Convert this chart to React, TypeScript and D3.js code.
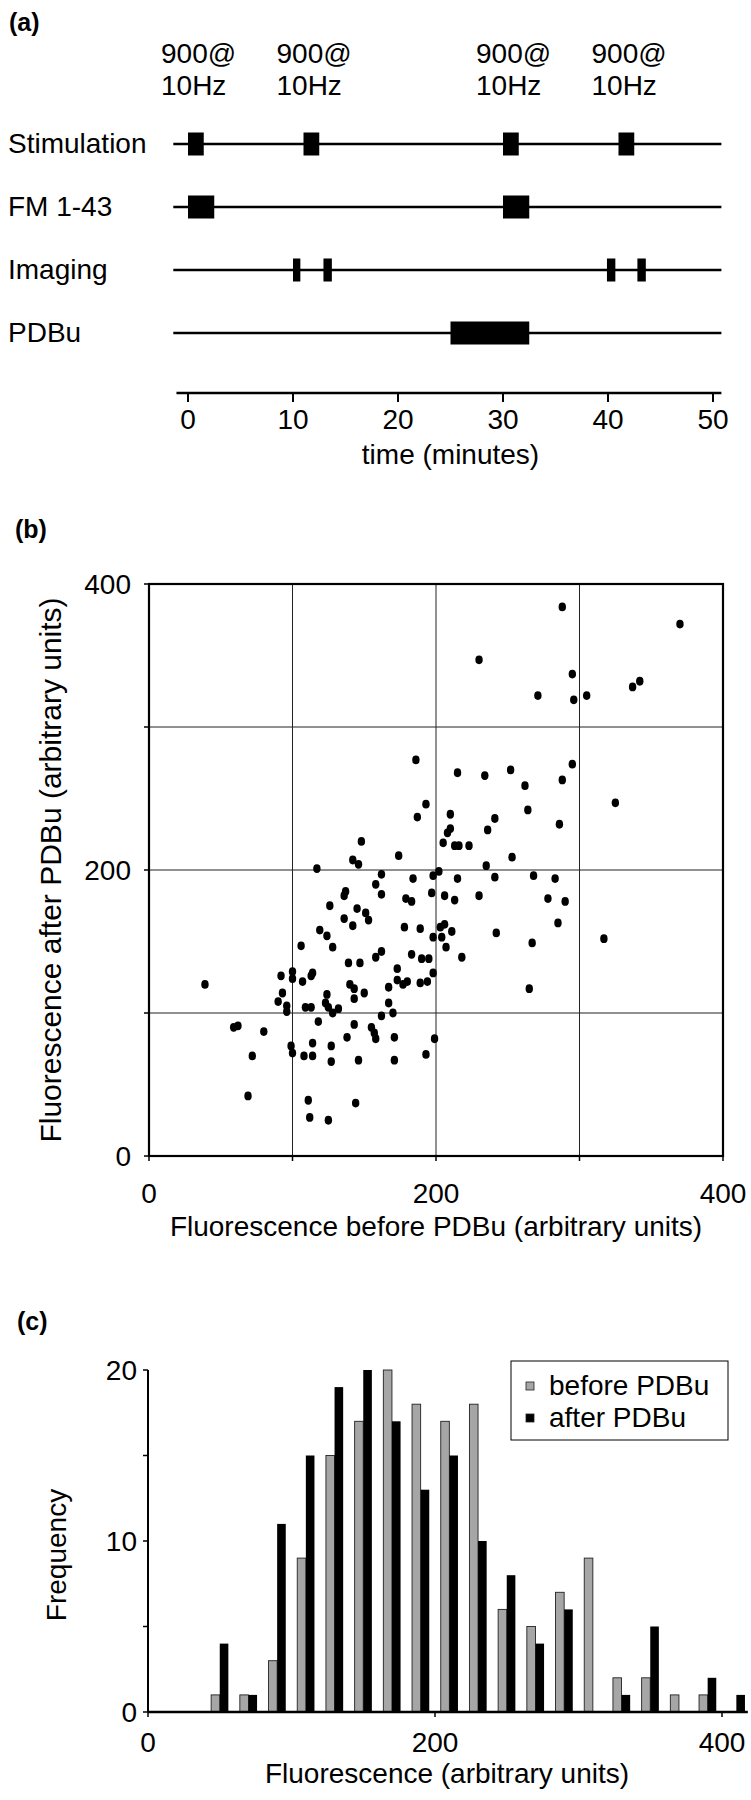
import React from "react";
import * as d3 from "d3";

const FONT = "'Liberation Sans', Arial, Helvetica, sans-serif";

// ---------- Panel (a): protocol ----------
const protocolRows = ["Stimulation", "FM 1-43", "Imaging", "PDBu"];
const stimulationEpochs: [number, number][] = [[0, 1.5], [11, 12.5], [30, 31.5], [41, 42.5]];
const fmEpochs: [number, number][] = [[0, 2.5], [30, 32.5]];
const imagingEpochs: [number, number][] = [[10, 10.7], [12.9, 13.7], [39.9, 40.7], [42.8, 43.6]];
const pdbuEpochs: [number, number][] = [[25, 32.5]];
const stimLabelTop = "900@";
const stimLabelBottom = "10Hz";
const timeTicks = [0, 10, 20, 30, 40, 50];

// ---------- Panel (b): scatter ----------
const beforePDBu = [
  230, 288, 370, 295, 271, 296, 305, 337, 342,
  186, 215, 234, 252, 295, 288, 262, 325, 193, 187, 210, 264, 241, 286, 236, 208, 210, 148, 205, 213, 216, 223, 174, 142, 146, 253, 117, 235,
  162, 184, 198, 202, 158, 162, 137, 136, 197, 179, 183, 126, 145, 151, 153, 136, 142, 178, 189, 119, 124, 198, 106, 128, 162, 158, 183, 190, 195, 139, 147, 173, 198, 92, 100, 100, 107, 113, 114, 39, 140, 143, 167, 173, 177, 180, 189, 194, 150, 93, 124, 90, 143, 167, 96, 96, 109, 113, 123, 125, 132, 128, 162, 170,
  215, 241, 268, 283, 206, 213, 230, 278, 290, 285, 203, 206, 211, 242, 204, 267, 317, 207, 218, 265,
  118, 143, 155, 157, 158, 59, 62, 80, 138, 171, 199, 114, 127, 99, 100, 72, 108, 114, 127, 146, 171, 193, 69, 111, 144, 112, 125,
];
const afterPDBu = [
  347, 384, 372, 337, 322, 319, 322, 328, 332,
  277, 268, 266, 270, 274, 263, 259, 247, 246, 237, 239, 242, 236, 232, 228, 226, 229, 220, 219, 217, 217, 217, 210, 207, 204, 209, 201, 203,
  197, 194, 196, 199, 190, 183, 185, 182, 184, 180, 178, 175, 173, 170, 165, 166, 161, 160, 159, 158, 154, 153, 147, 146, 143, 139, 141, 138, 138, 135, 135, 131, 128, 126, 129, 124, 122, 126, 128, 120, 120, 117, 118, 123, 120, 122, 121, 122, 114, 114, 113, 108, 110, 107, 105, 101, 104, 104, 107, 104, 103, 100, 98, 100,
  194, 195, 196, 194, 182, 179, 182, 180, 178, 163, 160, 162, 157, 156, 153, 149, 152, 146, 139, 117,
  94, 92, 90, 86, 82, 90, 91, 87, 83, 83, 82, 79, 77, 77, 72, 70, 70, 70, 66, 67, 67, 71, 42, 39, 37, 27, 25,
];
const scatterGrid = [0, 100, 200, 300, 400];
const scatterTickLabels = [0, 200, 400];

// ---------- Panel (c): histogram ----------
const binCenters = [50, 70, 90, 110, 130, 150, 170, 190, 210, 230, 250, 270, 290, 310, 330, 350, 370, 390, 410];
const freqBefore = [1, 1, 3, 9, 15, 17, 20, 18, 17, 18, 6, 5, 7, 9, 2, 2, 1, 1, 0];
const freqAfter = [4, 1, 11, 15, 19, 20, 17, 13, 15, 10, 8, 4, 6, 0, 1, 5, 0, 2, 1];
const freqTicks = [0, 5, 10, 15, 20];
const freqTickLabels = [0, 10, 20];
const histXTicks = [0, 200, 400];
const legendLabels = ["before PDBu", "after PDBu"];

const FS = 28;
const FS_LETTER = 25;

export default function App() {
  // ----- panel a scales -----
  const tx = d3.scaleLinear().domain([0, 50]).range([188, 713]);
  const rowY = d3.scalePoint<string>().domain(protocolRows).range([144, 333]);
  const epochSets = [stimulationEpochs, fmEpochs, imagingEpochs, pdbuEpochs];
  const blockH = 23;
  const axisAY = 393;

  // ----- panel b scales -----
  const sx = d3.scaleLinear().domain([0, 400]).range([149, 723]);
  const sy = d3.scaleLinear().domain([0, 400]).range([1156, 584]);

  // ----- panel c scales -----
  const hx = d3.scaleLinear().domain([0, 400]).range([148, 722]);
  const hy = d3.scaleLinear().domain([0, 20]).range([1712, 1370]);
  const barW = hx(6) - hx(0);

  return (
    <svg
      width={751}
      height={1800}
      viewBox="0 0 751 1800"
      style={{ position: "absolute", left: 0, top: 0, background: "#fff" }}
      fontFamily={FONT}
    >
      <rect x={0} y={0} width={751} height={1800} fill="#fff" />

      {/* ================= Panel (a) ================= */}
      <text x={9} y={31} fontSize={FS_LETTER} fontWeight="bold">(a)</text>
      {stimulationEpochs.map(([s], i) => (
        <g key={"sl" + i}>
          <text x={tx(s) - 27} y={63} fontSize={FS}>{stimLabelTop}</text>
          <text x={tx(s) - 27} y={95} fontSize={FS}>{stimLabelBottom}</text>
        </g>
      ))}
      {protocolRows.map((r, i) => (
        <g key={r}>
          <text x={8} y={(rowY(r) as number) + 9} fontSize={FS}>{r}</text>
          <line
            x1={tx(-1.4)}
            x2={tx(50.8)}
            y1={rowY(r)}
            y2={rowY(r)}
            stroke="#000"
            strokeWidth={2.6}
          />
          {epochSets[i].map(([a, b], j) => (
            <rect
              key={j}
              x={tx(a)}
              y={(rowY(r) as number) - blockH / 2}
              width={tx(b) - tx(a)}
              height={blockH}
              fill="#000"
            />
          ))}
        </g>
      ))}
      <line x1={tx(-1.1)} x2={tx(50.8)} y1={axisAY} y2={axisAY} stroke="#000" strokeWidth={2.6} />
      {timeTicks.map((t) => (
        <g key={"tt" + t}>
          <line x1={tx(t)} x2={tx(t)} y1={axisAY} y2={axisAY + 9} stroke="#000" strokeWidth={2} />
          <text x={tx(t)} y={429} fontSize={FS} textAnchor="middle">{t}</text>
        </g>
      ))}
      <text x={(tx(0) + tx(50)) / 2} y={464} fontSize={FS} textAnchor="middle">time (minutes)</text>

      {/* ================= Panel (b) ================= */}
      <text x={15} y={538} fontSize={FS_LETTER} fontWeight="bold">(b)</text>
      {scatterGrid.slice(1, -1).map((g) => (
        <g key={"g" + g}>
          <line x1={sx(g)} x2={sx(g)} y1={sy(0)} y2={sy(400)} stroke="#222" strokeWidth={1} />
          <line x1={sx(0)} x2={sx(400)} y1={sy(g)} y2={sy(g)} stroke="#222" strokeWidth={1} />
        </g>
      ))}
      <rect
        x={sx(0)}
        y={sy(400)}
        width={sx(400) - sx(0)}
        height={sy(0) - sy(400)}
        fill="none"
        stroke="#000"
        strokeWidth={2.2}
      />
      {scatterGrid.map((g) => (
        <g key={"st" + g}>
          <line x1={sx(g)} x2={sx(g)} y1={sy(0)} y2={sy(0) + 5} stroke="#000" strokeWidth={1.5} />
          <line x1={sx(0) - 5} x2={sx(0)} y1={sy(g)} y2={sy(g)} stroke="#000" strokeWidth={1.5} />
        </g>
      ))}
      {scatterTickLabels.map((v) => (
        <g key={"sl" + v}>
          <text x={131} y={sy(v) + 10} fontSize={FS} textAnchor="end">{v}</text>
          <text x={sx(v)} y={1203} fontSize={FS} textAnchor="middle">{v}</text>
        </g>
      ))}
      {beforePDBu.map((b, i) => (
        <ellipse key={"p" + i} cx={sx(b)} cy={sy(afterPDBu[i])} rx={3.7} ry={4.4} fill="#000" />
      ))}
      <text x={436} y={1236} fontSize={FS} textAnchor="middle">
        Fluorescence before PDBu (arbitrary units)
      </text>
      <text
        transform={`translate(61,${(sy(0) + sy(400)) / 2}) rotate(-90)`}
        fontSize={30}
        textAnchor="middle"
      >
        Fluorescence after PDBu (arbitrary units)
      </text>

      {/* ================= Panel (c) ================= */}
      <text x={17} y={1330} fontSize={FS_LETTER} fontWeight="bold">(c)</text>
      {binCenters.map((c, i) => (
        <g key={"bin" + c}>
          {freqBefore[i] > 0 && (
            <rect
              x={hx(c) - barW}
              y={hy(freqBefore[i])}
              width={barW}
              height={hy(0) - hy(freqBefore[i])}
              fill="#a6a6a6"
              stroke="#222"
              strokeWidth={0.9}
            />
          )}
          {freqAfter[i] > 0 && (
            <rect
              x={hx(c)}
              y={hy(freqAfter[i])}
              width={barW}
              height={hy(0) - hy(freqAfter[i])}
              fill="#000"
            />
          )}
        </g>
      ))}
      <line x1={hx(0)} x2={hx(0)} y1={hy(0)} y2={hy(20)} stroke="#000" strokeWidth={2} />
      <line x1={hx(0)} x2={hx(418)} y1={hy(0)} y2={hy(0)} stroke="#000" strokeWidth={2.4} />
      {freqTicks.map((f) => (
        <line key={"ft" + f} x1={hx(0) - 5} x2={hx(0)} y1={hy(f)} y2={hy(f)} stroke="#000" strokeWidth={1.5} />
      ))}
      {freqTickLabels.map((f) => (
        <text key={"fl" + f} x={137} y={hy(f) + 10} fontSize={FS} textAnchor="end">{f}</text>
      ))}
      {histXTicks.map((v) => (
        <g key={"hx" + v}>
          <line x1={hx(v)} x2={hx(v)} y1={hy(0)} y2={hy(0) + 5} stroke="#000" strokeWidth={1.5} />
          <text x={hx(v)} y={1752} fontSize={FS} textAnchor="middle">{v}</text>
        </g>
      ))}
      <text x={447} y={1783} fontSize={FS} textAnchor="middle">Fluorescence (arbitrary units)</text>
      <text transform="translate(66,1555) rotate(-90)" fontSize={FS} textAnchor="middle">Frequency</text>

      {/* legend */}
      <rect x={511} y={1361} width={217} height={79} fill="#fff" stroke="#000" strokeWidth={1} />
      {legendLabels.map((l, i) => (
        <g key={l}>
          <rect
            x={526}
            y={1386 + i * 32 - 4}
            width={8}
            height={8}
            fill={i === 0 ? "#a6a6a6" : "#000"}
            stroke="#222"
            strokeWidth={0.8}
          />
          <text x={549} y={1386 + i * 32 + 9} fontSize={FS}>{l}</text>
        </g>
      ))}
    </svg>
  );
}
